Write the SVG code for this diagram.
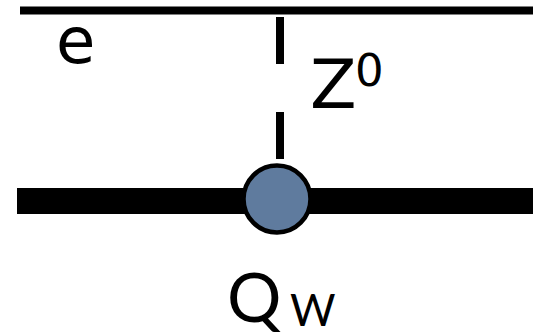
<svg xmlns="http://www.w3.org/2000/svg" width="533" height="335" viewBox="0 0 533 335">
<style>
.d{font-family:"DejaVu Sans",sans-serif;fill:#000}
.a{font-family:Lato,"Liberation Sans",sans-serif;fill:#000}
.l{stroke:#000;fill:none}
</style>
<rect width="533" height="335" fill="#fff"/>
<g id="connectors">
<line class="l" x1="20" y1="10.5" x2="533" y2="10.5" stroke-width="8"/>
<line class="l" x1="280" y1="17" x2="280" y2="64" stroke-width="8"/>
<line class="l" x1="280" y1="112" x2="280" y2="159" stroke-width="8"/>
<line class="l" x1="17" y1="201" x2="533" y2="201" stroke-width="26"/>
</g>
<g id="node-qw"><circle cx="277" cy="199" r="33.5" fill="#5f7b9e" stroke="#000" stroke-width="4.5"/></g>
<text class="d" x="56" y="63" font-size="64">e</text>
<text class="d" x="310" y="108" font-size="68">Z</text>
<text class="d" x="355" y="86" font-size="45">0</text>
<text class="a" x="227" y="322" font-size="68">Q</text>
<text class="a" x="290" y="326" font-size="44">W</text>
</svg>
